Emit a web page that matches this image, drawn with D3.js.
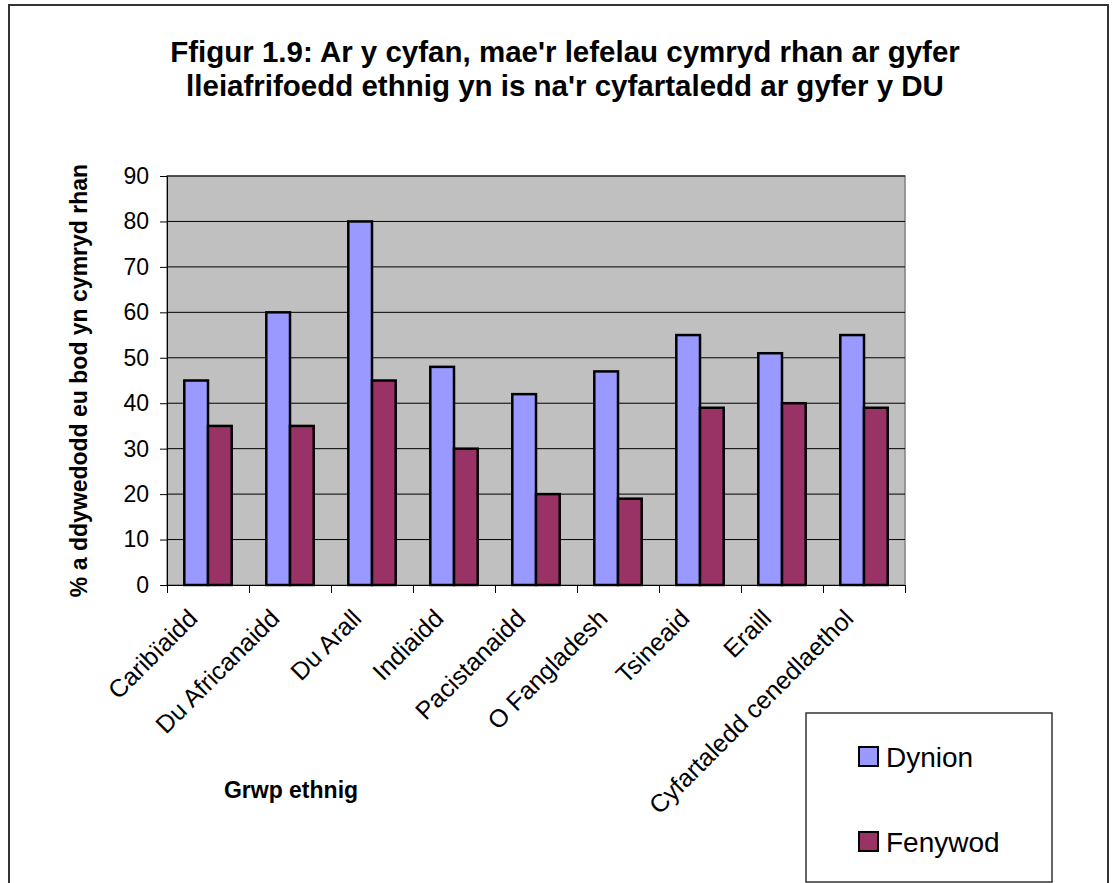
<!DOCTYPE html>
<html>
<head>
<meta charset="utf-8">
<script src="https://cdn.jsdelivr.net/npm/d3@7"></script>
<style>
  body { margin: 0; background: #fff; }
  svg { font-family: "Liberation Sans", Arial, sans-serif; }
  .axis path, .axis line { stroke: #000; }
</style>
</head>
<body>
<div id="chart"></div>
<script>
(function() {

  let categories = ["Caribïaidd", "Du Africanaidd", "Du Arall", "Indiaidd", "Pacistanaidd",
    "O Fangladesh", "Tsineaid", "Eraill", "Cyfartaledd cenedlaethol"];
  let seriesNames = ["Dynion", "Fenywod"];
  let dynion = [45, 60, 80, 48, 42, 47, 55, 51, 55];
  let fenywod = [35, 35, 45, 30, 20, 19, 39, 40, 39];
  let yTicks = [0, 10, 20, 30, 40, 50, 60, 70, 80, 90];
  let colors = ["#9999FF", "#993366"];

  let width = 1116;
  let height = 883;
  let plot = {left: 167, right: 905, top: 176, bottom: 585};

  let svg = d3.select("#chart").append("svg")
    .attr("width", width)
    .attr("height", height);

  // outer chart border
  svg.append("rect")
    .attr("x", 9).attr("y", 5)
    .attr("width", 1099).attr("height", 900)
    .attr("fill", "none")
    .attr("stroke", "#333")
    .attr("stroke-width", 2);

  // title
  let title = svg.append("text")
    .attr("text-anchor", "middle")
    .attr("font-weight", "bold")
    .attr("font-size", "29.5px");
  title.append("tspan").attr("x", 565).attr("y", 62)
    .text("Ffigur 1.9: Ar y cyfan, mae'r lefelau cymryd rhan ar gyfer");
  title.append("tspan").attr("x", 565).attr("y", 96)
    .text("lleiafrifoedd ethnig yn is na'r cyfartaledd ar gyfer y DU");

  let x0 = d3.scaleBand()
    .domain(categories)
    .range([plot.left, plot.right])
    .padding(0);

  let x1 = d3.scaleBand()
    .domain(seriesNames)
    .range([0, x0.bandwidth()])
    .paddingInner(0)
    .paddingOuter(0.73);

  let y = d3.scaleLinear()
    .domain([0, 90])
    .range([plot.bottom, plot.top]);

  // plot background
  svg.append("rect")
    .attr("x", plot.left).attr("y", plot.top)
    .attr("width", plot.right - plot.left)
    .attr("height", plot.bottom - plot.top)
    .attr("fill", "#C0C0C0")
    .attr("stroke", "#808080")
    .attr("stroke-width", 1.5);

  // gridlines
  svg.append("g").selectAll("line")
    .data(yTicks.filter(d => d > 0))
    .join("line")
    .attr("x1", plot.left).attr("x2", plot.right)
    .attr("y1", d => y(d)).attr("y2", d => y(d))
    .attr("stroke", "#000")
    .attr("stroke-width", 1);

  // bars
  let data = categories.map((c, i) => ({cat: c, values: [
    {name: seriesNames[0], value: dynion[i]},
    {name: seriesNames[1], value: fenywod[i]}
  ]}));

  svg.append("g").selectAll("g")
    .data(data)
    .join("g")
    .attr("transform", d => "translate(" + x0(d.cat) + ",0)")
    .selectAll("rect")
    .data(d => d.values)
    .join("rect")
    .attr("x", d => x1(d.name))
    .attr("y", d => y(d.value))
    .attr("width", x1.bandwidth())
    .attr("height", d => y(0) - y(d.value))
    .attr("fill", (d, i) => colors[i])
    .attr("stroke", "#000")
    .attr("stroke-width", 2.5);

  // y axis
  svg.append("g")
    .attr("class", "axis")
    .attr("transform", "translate(" + plot.left + ",0)")
    .call(d3.axisLeft(y).tickValues(yTicks).tickSize(7).tickPadding(11).tickSizeOuter(0))
    .call(g => g.selectAll("text").attr("font-size", "23px").attr("font-family", null).attr("fill", "#000"));

  // x axis: tick marks at category boundaries
  let xb = d3.scaleLinear().domain([0, categories.length]).range([plot.left, plot.right]);
  svg.append("g")
    .attr("class", "axis")
    .attr("transform", "translate(0," + plot.bottom + ")")
    .call(d3.axisBottom(xb).ticks(categories.length).tickSize(8).tickSizeOuter(0).tickFormat(""));

  // category labels
  svg.append("g").selectAll("text")
    .data(categories)
    .join("text")
    .attr("transform", d => "translate(" + (x0(d) + x0.bandwidth() / 2 - 9) + "," + 620 + ") rotate(-45)")
    .attr("text-anchor", "end")
    .attr("font-size", "25px")
    .text(d => d);

  // axis titles
  svg.append("text")
    .attr("transform", "translate(87," + ((plot.top + plot.bottom) / 2) + ") rotate(-90)")
    .attr("text-anchor", "middle")
    .attr("font-weight", "bold")
    .attr("font-size", "23px")
    .text("% a ddywedodd eu bod yn cymryd rhan");

  svg.append("text")
    .attr("x", 291).attr("y", 798)
    .attr("text-anchor", "middle")
    .attr("font-weight", "bold")
    .attr("font-size", "23px")
    .text("Grwp ethnig");

  // legend
  let legend = svg.append("g");
  legend.append("rect")
    .attr("x", 806).attr("y", 713)
    .attr("width", 246).attr("height", 169)
    .attr("fill", "#fff")
    .attr("stroke", "#333")
    .attr("stroke-width", 1.5);

  let items = legend.selectAll("g")
    .data(seriesNames)
    .join("g")
    .attr("transform", (d, i) => "translate(859," + (747 + i * 85) + ")");
  items.append("rect")
    .attr("width", 19).attr("height", 19)
    .attr("fill", (d, i) => colors[i])
    .attr("stroke", "#000")
    .attr("stroke-width", 2);
  items.append("text")
    .attr("x", 27).attr("y", 20)
    .attr("font-size", "28px")
    .text(d => d);

})();
</script>
</body>
</html>
